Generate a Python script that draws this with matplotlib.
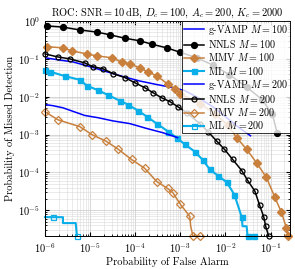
import matplotlib
matplotlib.use("Agg")
import matplotlib.pyplot as plt

plt.rcParams["font.family"] = "serif"
plt.rcParams["font.serif"] = ["cmr10", "DejaVu Serif"]
plt.rcParams["mathtext.fontset"] = "cm"
plt.rcParams["axes.formatter.use_mathtext"] = True

# ROC curves: probability of false alarm (x) vs probability of missed detection (y)
gvamp100_pfa = [1e-6, 2.1e-6, 4.2e-6, 1e-5, 2.3e-5, 5.4e-5, 1.26e-4, 3e-4, 6.8e-4, 1.26e-3,
                2.7e-3, 5.2e-3, 8.7e-3, 2.04e-2, 3.6e-2]
gvamp100_pmd = [0.107, 0.093, 0.083, 0.062, 0.046, 0.034, 0.026, 0.021, 0.0174, 0.0145,
                0.0089, 0.0055, 0.0034, 0.0015, 9.3e-4]

nnls100_pfa = [1.1e-6, 2.5e-6, 5.9e-6, 1.4e-5, 2.8e-5, 5.9e-5, 1.26e-4, 2.3e-4, 5e-4, 9.8e-4,
               2.3e-3, 5.2e-3, 1.23e-2, 2.95e-2, 6.6e-2, 0.11, 0.14]
nnls100_pmd = [0.74, 0.69, 0.58, 0.51, 0.43, 0.35, 0.30, 0.245, 0.195, 0.15,
               0.107, 0.069, 0.038, 0.018, 0.0083, 0.0034, 0.00112]

mmv100_pfa = [1.1e-6, 2.5e-6, 4e-6, 8.5e-6, 1.4e-5, 3e-5, 5e-5, 7.6e-5, 1.26e-4, 1.9e-4,
              3e-4, 5.2e-4, 7.6e-4, 9.8e-4, 2.7e-3, 5.8e-3, 1.12e-2, 1.78e-2, 2.95e-2, 4.9e-2,
              8.1e-2, 0.123, 0.174, 0.224, 0.24]
mmv100_pmd = [0.21, 0.195, 0.162, 0.135, 0.12, 0.107, 0.083, 0.074, 0.0575, 0.0457,
              0.0355, 0.0219, 0.0162, 0.012, 0.0066, 0.00355, 0.0018, 8.3e-4, 4.1e-4, 1.8e-4,
              7.4e-5, 2.3e-5, 8.9e-6, 3.5e-6, 2.1e-6]

ml100_pfa = [1e-6, 1.3e-6, 2.75e-6, 5.9e-6, 8.5e-6, 1.48e-5, 2.45e-5, 4.6e-5, 6.9e-5, 1.15e-4,
             1.8e-4, 3e-4, 5.4e-4, 8.3e-4, 1.26e-3, 2.1e-3, 3.2e-3, 4.5e-3, 6.8e-3, 1.07e-2,
             1.58e-2, 2.3e-2, 2.4e-2, 2.95e-2, 3.1e-2, 4.2e-2]
ml100_pmd = [0.051, 0.046, 0.035, 0.028, 0.0195, 0.015, 0.0112, 0.0078, 0.0062, 0.0043,
             0.0030, 0.00195, 0.0012, 8.3e-4, 5.5e-4, 3.55e-4, 2.1e-4, 1.2e-4, 8.3e-5, 5.5e-5,
             2.6e-5, 6.6e-6, 3.8e-6, 3.8e-6, 2.1e-6, 2.1e-6]

gvamp200_pfa = [1e-6, 1.5e-6, 2.5e-6, 4.2e-6, 7.6e-6, 1.48e-5, 3.2e-5, 7.6e-5, 1.8e-4, 4.1e-4, 8.7e-4]
gvamp200_pmd = [0.0062, 0.0058, 0.0051, 0.0041, 0.0032, 0.0028, 0.0023, 0.00195, 0.00145, 0.00112, 8.3e-4]

nnls200_pfa = [1e-6, 1.95e-6, 3.55e-6, 7.6e-6, 1.15e-5, 1.9e-5, 3.2e-5, 5.9e-5, 9.8e-5, 1.62e-4,
               2.45e-4, 3.9e-4, 5.9e-4, 8.7e-4, 1.38e-3, 2.7e-3, 4.1e-3, 6.5e-3, 9.5e-3, 1.45e-2,
               2.3e-2, 3.1e-2, 4.5e-2, 5.75e-2, 7.1e-2, 7.8e-2, 9.1e-2]
nnls200_pmd = [0.135, 0.112, 0.1, 0.078, 0.062, 0.055, 0.041, 0.032, 0.0234, 0.0174,
               0.0129, 0.0093, 0.0074, 0.0055, 0.0038, 0.00195, 0.0012, 6.6e-4, 4.1e-4, 2.2e-4,
               1.12e-4, 6.2e-5, 3.2e-5, 1.35e-5, 6.6e-6, 3.8e-6, 2.1e-6]

mmv200_pfa = [1e-6, 1.95e-6, 5.9e-6, 1.1e-5, 2.3e-5, 4.2e-5, 8.3e-5, 1.62e-4, 3e-4, 5.2e-4,
              6.8e-4, 9.8e-4, 1.62e-3, 1.7e-3, 1.9e-3, 2.7e-3]
mmv200_pmd = [4.0e-3, 2.45e-3, 1.62e-3, 1e-3, 6.6e-4, 4.1e-4, 2.2e-4, 1.29e-4, 5.75e-5, 3.8e-5,
              2.95e-5, 1.5e-5, 6.9e-6, 3.8e-6, 2.1e-6, 2.1e-6]

ml200_pfa = [1e-6, 1.5e-6, 2.5e-6, 2.5e-6, 4.8e-6, 5.1e-6]
ml200_pmd = [6.6e-6, 6.6e-6, 6.6e-6, 4.6e-6, 4.6e-6, 2.1e-6]

BLUE = "#0000ff"
BROWN = "#c8803c"
CYAN = "#0aaee8"

fig = plt.figure(figsize=(2.95, 2.69), dpi=100)
ax = fig.add_axes([0.1525, 0.1227, 0.8305, 0.7993])

lw = 1.1
ms = 3.6
ax.plot(gvamp100_pfa, gvamp100_pmd, color=BLUE, lw=lw, label=r"g-VAMP $M=100$")
ax.plot(nnls100_pfa, nnls100_pmd, color="black", lw=lw, marker="o", ms=ms + 0.6,
        label=r"NNLS $M=100$", clip_on=False)
ax.plot(mmv100_pfa, mmv100_pmd, color=BROWN, lw=lw, marker="D", ms=ms,
        label=r"MMV $M=100$", clip_on=False)
ax.plot(ml100_pfa, ml100_pmd, color=CYAN, lw=lw + 0.4, marker="s", ms=ms,
        markevery=[i for i in range(len(ml100_pfa)) if i not in (22, 23)],
        label=r"ML $M=100$", clip_on=False)
ax.plot(gvamp200_pfa, gvamp200_pmd, color=BLUE, lw=lw, label=r"g-VAMP $M=200$")
ax.plot(nnls200_pfa, nnls200_pmd, color="black", lw=lw, marker="o", ms=ms, mfc="none",
        mew=0.9, label=r"NNLS $M=200$", clip_on=False)
ax.plot(mmv200_pfa, mmv200_pmd, color=BROWN, lw=lw, marker="D", ms=ms, mfc="none",
        mew=0.9, markevery=[i for i in range(len(mmv200_pfa)) if i not in (13,)],
        label=r"MMV $M=200$", clip_on=False)
ax.plot(ml200_pfa, ml200_pmd, color=CYAN, lw=lw + 0.4, marker="s", ms=ms, mfc="none",
        mew=0.9, markevery=[1, 5], label=r"ML $M=200$", clip_on=False)

ax.set_xscale("log")
ax.set_yscale("log")
ax.set_xlim(1e-6, 0.27)
ax.set_ylim(2.1e-6, 1)
ax.set_xticks([1e-6, 1e-5, 1e-4, 1e-3, 1e-2, 1e-1])
ax.set_yticks([1e-5, 1e-4, 1e-3, 1e-2, 1e-1, 1])

ax.grid(which="major", color="0.78", lw=0.5)
ax.grid(which="minor", color="0.86", lw=0.4)
ax.set_axisbelow(True)
ax.tick_params(which="both", direction="in", labelsize=7.5, top=True, right=True)
ax.tick_params(which="major", length=3)
ax.tick_params(which="minor", length=1.5)

ax.set_title(r"ROC: SNR$=10\,$dB, $D_c=100$, $A_c=200$, $K_c=2000$", fontsize=7.5, pad=4)
ax.set_xlabel("Probability of False Alarm", fontsize=7.5, labelpad=2)
ax.set_ylabel("Probability of Missed Detection", fontsize=7.5, labelpad=2)

leg = ax.legend(loc="upper right", fontsize=7.2, borderaxespad=0, fancybox=False,
                edgecolor="black", framealpha=0.8, labelspacing=0.12, borderpad=0.2,
                handlelength=2.0, handletextpad=0.4)
leg.get_frame().set_linewidth(0.7)
for sp in ax.spines.values():
    sp.set_linewidth(0.7)

fig.savefig("out.png", dpi=100)
